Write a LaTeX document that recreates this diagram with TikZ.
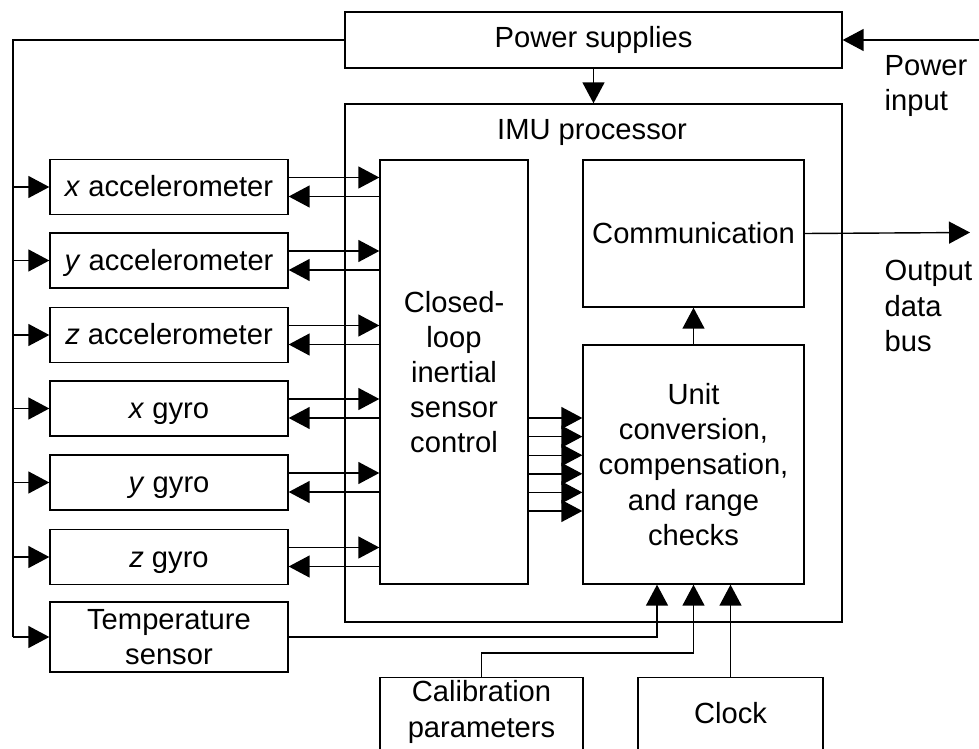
\documentclass[tikz,border=0pt]{standalone}
\usepackage{fontspec}
\setmainfont{Liberation Sans}
\usetikzlibrary{arrows.meta,positioning}

\tikzset{
	blk/.style={draw, inner sep=0pt, align=center},
	sens/.style={blk, minimum width=4.76cm, minimum height=1.1cm, text height=0.4cm, text depth=0pt},
	>={Triangle[length=0.42cm,width=0.44cm]}
}

\begin{document}
\begin{tikzpicture}[x=0.02cm, y=-0.02cm, line width=0.8pt, font=\fontsize{16.6}{20}\selectfont]
	\useasboundingbox (0,0) rectangle (979,749);
	% processor and supply
	\node[blk, minimum width=9.94cm, minimum height=1.12cm] (ps) at (593.5,40) {Power supplies};
	\node[blk, minimum width=9.94cm, minimum height=10.36cm] (imu) at (593.5,363) {};
	\node (imulbl) at (592,132) {IMU processor};
	\node[blk, minimum width=2.96cm, minimum height=8.48cm] (ctrl) at (454,372) {Closed-\\loop\\inertial\\sensor\\control};
	\node[blk, minimum width=4.42cm, minimum height=2.94cm] (comm) at (693.5,233.5) {Communication};
	\node[blk, minimum width=4.42cm, minimum height=4.78cm] (unit) at (693.5,464.5) {Unit\\conversion,\\compensation,\\and range\\checks};
	% sensors
	\node[sens] (xacc) at (169,187) {\textit{x} accelerometer};
	\node[sens] (yacc) at (169,260.5) {\textit{y} accelerometer};
	\node[sens] (zacc) at (169,335) {\textit{z} accelerometer};
	\node[sens] (xgyro) at (169,408.5) {\textit{x} gyro};
	\node[sens] (ygyro) at (169,482.5) {\textit{y} gyro};
	\node[sens] (zgyro) at (169,557) {\textit{z} gyro};
	\node[blk, minimum width=4.76cm, minimum height=1.4cm] (temp) at (169,637) {Temperature\\sensor};
	% bottom inputs
	\node[blk, anchor=north, minimum width=4.06cm, minimum height=1.8cm] (calib) at (481.5,677) {};
	\node[align=center] (calibtxt) at (481.5,712) {Calibration\\parameters};
	\node[blk, anchor=north, minimum width=3.7cm, minimum height=1.8cm] (clock) at (730.5,677) {};
	\node (clocktxt) at (730.5,713) {Clock};
	% outside labels
	\node[anchor=west, align=left, inner sep=0pt] (pinlbl) at (884,86) {Power\\input};
	\node[anchor=west, align=left, inner sep=0pt] (outlbl) at (884,306) {Output\\data\\bus};
	\coordinate (bus) at (13,40);
	\coordinate (pin) at (979,40);
	\coordinate (out) at (970,232.5);

	\draw[->] (pin) -- (ps.east);
	\draw[->] (ps.south) -- (imu.north);
	\draw (ps.west) -- (bus) -- (bus |- temp.west);
	\foreach \s in {xacc,yacc,zacc,xgyro,ygyro,zgyro,temp}
		\draw[->] (bus |- \s.west) -- (\s.west);
	\foreach \s in {xacc,yacc,zacc,xgyro,ygyro,zgyro}{
		\draw[->] ([yshift=0.19cm]\s.east) -- ([yshift=0.19cm]\s.east -| ctrl.west);
		\draw[->] ([yshift=-0.19cm]\s.east -| ctrl.west) -- ([yshift=-0.19cm]\s.east);
	}
	\foreach \k in {-2.5,-1.5,...,2.5}
		\draw[->] ([yshift=\k*0.372cm]unit.west -| ctrl.east) -- ([yshift=\k*0.372cm]unit.west);
	\draw[->] (unit.north) -- (comm.south);
	\draw[->] (comm.east) -- (out);
	\draw[->] (temp.east) -| ([xshift=-0.73cm]unit.south);
	\draw[->] (calib.north) -- ++(0,-24) -| (unit.south);
	\draw[->] (clock.north) -- (clock.north |- unit.south);
\end{tikzpicture}
\end{document}
